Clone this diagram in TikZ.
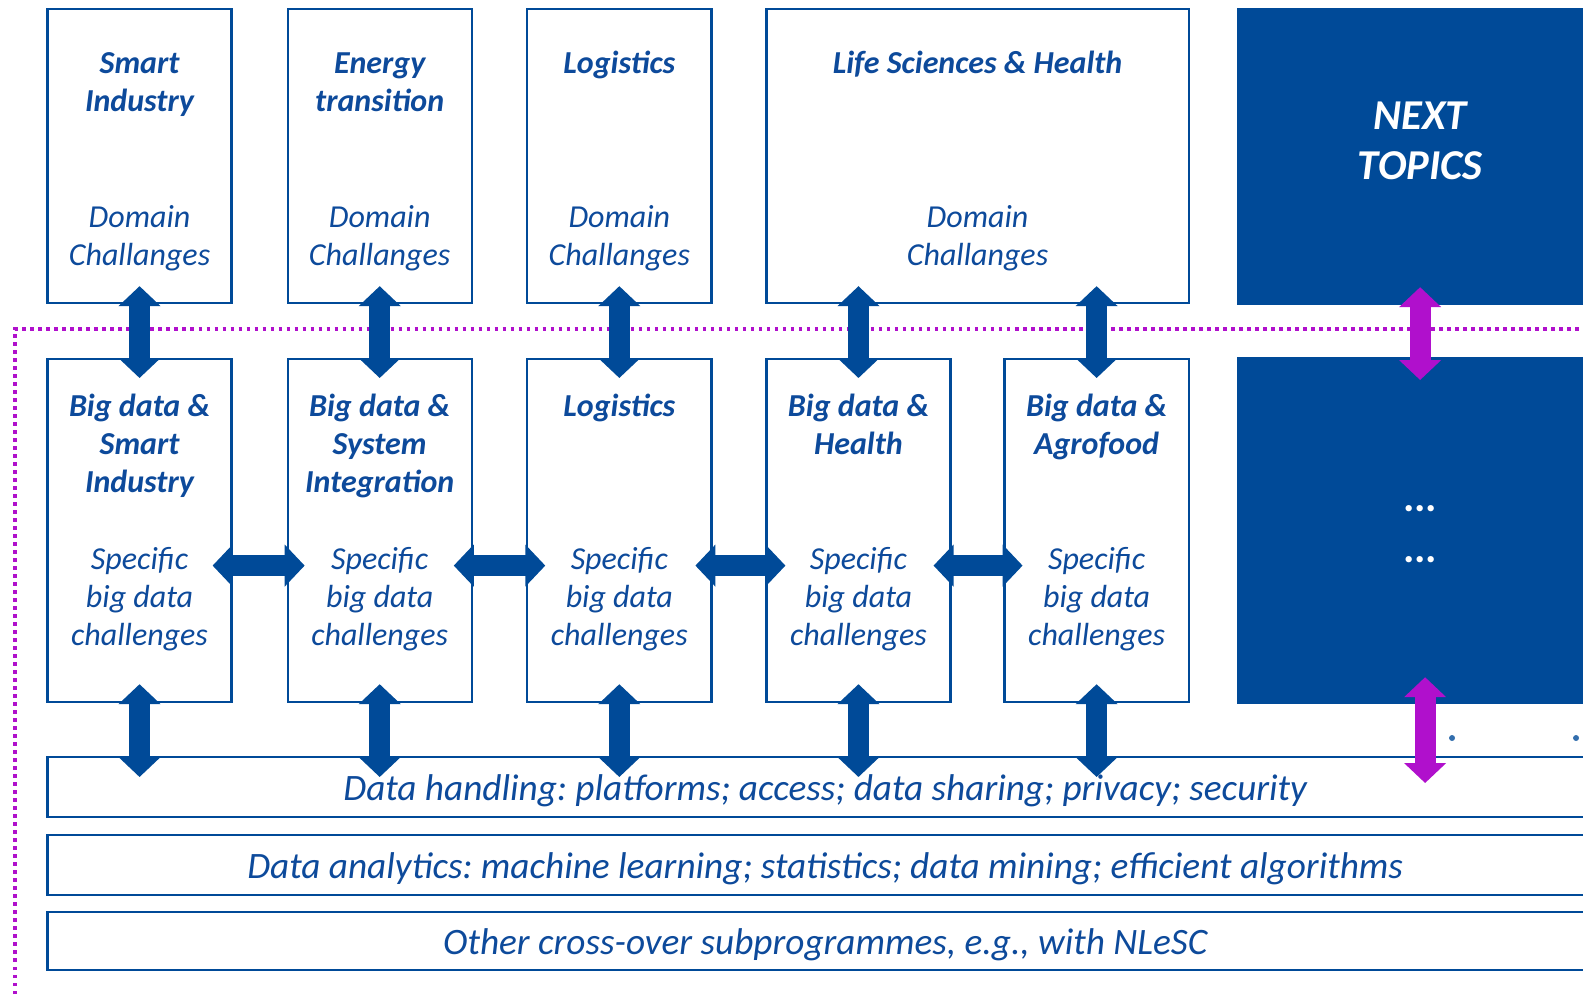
\documentclass[tikz,border=0pt]{standalone}
\usepackage{fontspec}
\setmainfont{Carlito}
\frenchspacing
\usetikzlibrary{positioning,arrows.meta}
\definecolor{tiblue}{HTML}{004A98}
\definecolor{titext}{HTML}{0D4A9B}
\definecolor{timag}{HTML}{B010CC}

\begin{document}
\begin{tikzpicture}[x=0.01cm, y=-0.01cm, node distance=0.55cm]
    \tikzset{
        box/.style = {rectangle, draw=tiblue, line width=0.65pt, fill=white, inner sep=0, outer sep=0, anchor=north west},
        topbox/.style = {box, minimum width=1.84cm, minimum height=2.94cm},
        midbox/.style = {box, minimum width=1.84cm, minimum height=3.43cm},
        bar/.style = {box, minimum width=15.545cm, minimum height=0.6cm, text height=10.2pt, text depth=2.4pt, text=titext, font=\fontsize{10.6}{12.8}\selectfont\itshape},
        darkbox/.style = {rectangle, fill=tiblue, inner sep=0, outer sep=0, anchor=north west, minimum width=3.66cm},
        ttl/.style = {align=center, anchor=north, inner sep=0, text=titext, font=\fontsize{9.1}{10.8}\selectfont\bfseries\itshape},
        sub/.style = {ttl, font=\fontsize{9.1}{10.8}\selectfont\itshape},
        nextttl/.style = {ttl, text=white, font=\fontsize{12.1}{14.4}\selectfont\bfseries\itshape},
        dblarrow/.style = {draw=tiblue, line width=0.21cm, {Triangle[width=0.41cm,length=0.2cm]}-{Triangle[width=0.41cm,length=0.2cm]}},
        magarrow/.style = {dblarrow, draw=timag},
        border/.style = {draw=timag, line width=0.035cm, dash pattern=on 0.035cm off 0.045cm}
    }
    \useasboundingbox (0,0) rectangle (1583,994);

    % dotted border of the programme
    \coordinate (b0) at (15,994);
    \coordinate (b1) at (15,329);
    \coordinate (b2) at (1583,329);
    \draw [border] (b0) -- (b1) -- (b2);

    % domain row
    \node (si) [topbox] at (47.5,9) {};
    \node (et) [topbox, right=0.56cm of si] {};
    \node (lg) [topbox, right=0.555cm of et] {};
    \node (ls) [topbox, right=0.55cm of lg, minimum width=4.22cm] {};
    \node (nt) [darkbox, minimum height=2.97cm] at (1237,8) {};

    \node (si-t) [ttl] at ([yshift=-0.43cm]si.north) {Smart\\Industry};
    \node (et-t) [ttl] at ([yshift=-0.43cm]et.north) {Energy\\transition};
    \node (lg-t) [ttl] at ([yshift=-0.41cm]lg.north) {Logistics};
    \node (ls-t) [ttl] at ([yshift=-0.41cm]ls.north) {Life Sciences \& Health};
    \node (si-d) [sub] at ([yshift=-1.96cm]si.north) {Domain\\Challanges};
    \node (et-d) [sub] at ([yshift=-1.96cm]et.north) {Domain\\Challanges};
    \node (lg-d) [sub] at ([yshift=-1.96cm]lg.north) {Domain\\Challanges};
    \node (ls-d) [sub] at ([yshift=-1.96cm]ls.north) {Domain\\Challanges};
    \node (nt-t) [nextttl] at ([yshift=-0.927cm]nt.north) {NEXT\\TOPICS};

    % big data row
    \node (bsi) [midbox] at (47.5,359) {};
    \node (bsy) [midbox, right=0.56cm of bsi] {};
    \node (blg) [midbox, right=0.555cm of bsy] {};
    \node (bhe) [midbox, right=0.55cm of blg] {};
    \node (bag) [midbox, right=0.54cm of bhe] {};
    \node (nx) [darkbox, minimum height=3.47cm] at (1237,357) {};

    \node (bsi-t) [ttl] at ([yshift=-0.34cm]bsi.north) {Big data \&\\Smart\\Industry};
    \node (bsy-t) [ttl] at ([yshift=-0.34cm]bsy.north) {Big data \&\\System\\Integration};
    \node (blg-t) [ttl] at ([yshift=-0.34cm]blg.north) {Logistics};
    \node (bhe-t) [ttl] at ([yshift=-0.34cm]bhe.north) {Big data \&\\Health};
    \node (bag-t) [ttl] at ([yshift=-0.34cm]bag.north) {Big data \&\\Agrofood};
    \node (bsi-d) [sub] at ([yshift=-1.875cm]bsi.north) {Specific\\big data\\challenges};
    \node (bsy-d) [sub] at ([yshift=-1.875cm]bsy.north) {Specific\\big data\\challenges};
    \node (blg-d) [sub] at ([yshift=-1.875cm]blg.north) {Specific\\big data\\challenges};
    \node (bhe-d) [sub] at ([yshift=-1.875cm]bhe.north) {Specific\\big data\\challenges};
    \node (bag-d) [sub] at ([yshift=-1.875cm]bag.north) {Specific\\big data\\challenges};
    \node (nx-t) [nextttl, font=\fontsize{12.1}{14.4}\selectfont\bfseries] at ([yshift=-1.48cm]nx.north) {...\\...};

    % generic layers
    \node (dh) [bar] at (47.5,757) {Data handling: platforms; access; data sharing; privacy; security};
    \node (da) [bar] at (47.5,835) {Data analytics: machine learning; statistics; data mining; efficient algorithms};
    \node (oc) [bar, minimum height=0.58cm] at (47.5,912) {Other cross-over subprogrammes, e.g., with NLeSC};

    \fill [tiblue!80] (1452,738) circle [radius=0.03cm];
    \fill [tiblue!80] (1576,738) circle [radius=0.03cm];

    % domain <-> big data
    \coordinate (lsa) at (bhe.north |- ls.south);
    \coordinate (lsb) at (bag.north |- ls.south);
    \draw [dblarrow] ([yshift=0.17cm]si.south) -- ([yshift=-0.19cm]bsi.north);
    \draw [dblarrow] ([yshift=0.17cm]et.south) -- ([yshift=-0.19cm]bsy.north);
    \draw [dblarrow] ([yshift=0.17cm]lg.south) -- ([yshift=-0.19cm]blg.north);
    \draw [dblarrow] ([yshift=0.17cm]lsa) -- ([yshift=-0.19cm]bhe.north);
    \draw [dblarrow] ([yshift=0.17cm]lsb) -- ([yshift=-0.19cm]bag.north);
    \draw [magarrow] ([yshift=0.18cm]nt.south) -- ([yshift=-0.23cm]nx.north);

    % between big data topics
    \draw [dblarrow] ([shift={(-19,35)}]bsi.east) -- ([shift={(17,35)}]bsy.west);
    \draw [dblarrow] ([shift={(-18,35)}]bsy.east) -- ([shift={(18,35)}]blg.west);
    \draw [dblarrow] ([shift={(-16,35)}]blg.east) -- ([shift={(19,35)}]bhe.west);
    \draw [dblarrow] ([shift={(-17,35)}]bhe.east) -- ([shift={(18,35)}]bag.west);

    % big data <-> data handling
    \coordinate (dh1) at (bsi.south |- dh.north);
    \coordinate (dh2) at (bsy.south |- dh.north);
    \coordinate (dh3) at (blg.south |- dh.north);
    \coordinate (dh4) at (bhe.south |- dh.north);
    \coordinate (dh5) at (bag.south |- dh.north);
    \coordinate (dh6) at (nx.south |- dh.north);
    \draw [dblarrow] ([yshift=0.18cm]bsi.south) -- ([yshift=-0.2cm]dh1);
    \draw [dblarrow] ([yshift=0.18cm]bsy.south) -- ([yshift=-0.2cm]dh2);
    \draw [dblarrow] ([yshift=0.18cm]blg.south) -- ([yshift=-0.2cm]dh3);
    \draw [dblarrow] ([yshift=0.18cm]bhe.south) -- ([yshift=-0.2cm]dh4);
    \draw [dblarrow] ([yshift=0.18cm]bag.south) -- ([yshift=-0.2cm]dh5);
    \draw [magarrow] ([shift={(5,-27)}]nx.south) -- ([shift={(5,26)}]dh6);
\end{tikzpicture}
\end{document}
